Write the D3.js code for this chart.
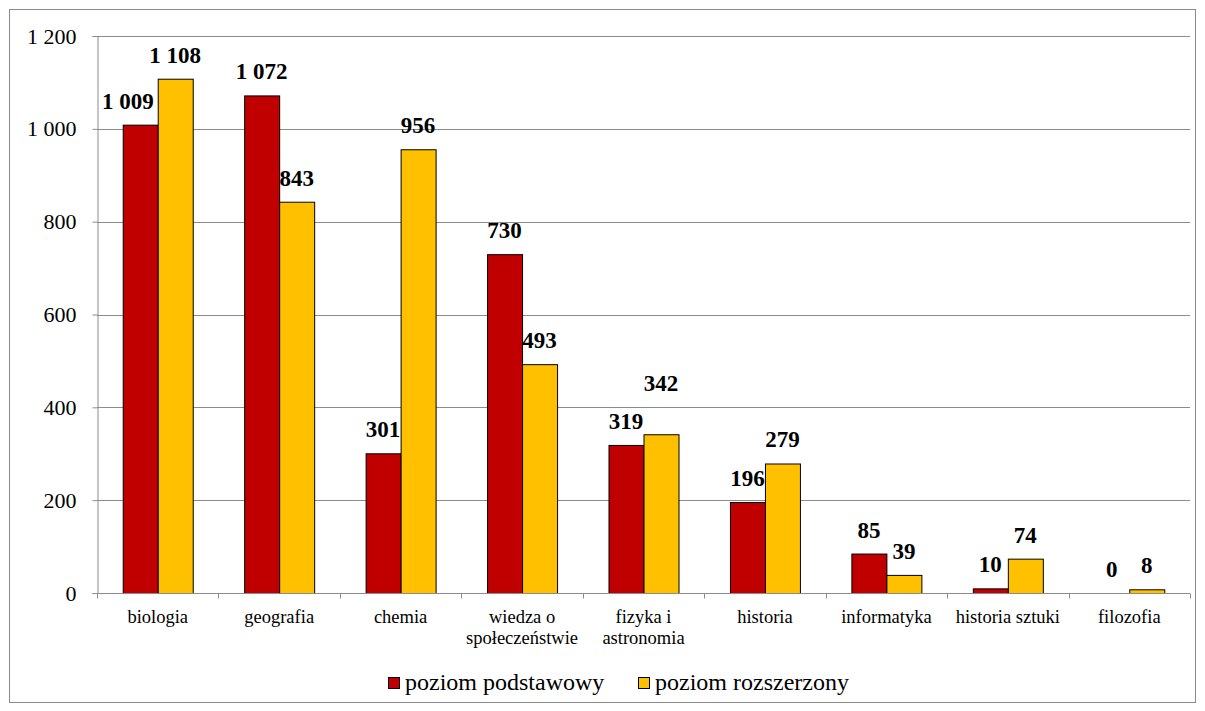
<!DOCTYPE html>
<html>
<head>
<meta charset="utf-8">
<script src="https://cdn.jsdelivr.net/npm/d3@7"></script>
</head>
<body style="margin:0; background:#fff">
<div id="chart-area"></div>
<script>
// data
const categories = ["biologia", "geografia", "chemia", "wiedza o|społeczeństwie", "fizyka i|astronomia",
  "historia", "informatyka", "historia sztuki", "filozofia"]
const podstawowy = [1009, 1072, 301, 730, 319, 196, 85, 10, 0]
const rozszerzony = [1108, 843, 956, 493, 342, 279, 39, 74, 8]
const seriesNames = ["poziom podstawowy", "poziom rozszerzony"]
const seriesColors = ["#C00000", "#FFC000"]
const yTicks = [0, 200, 400, 600, 800, 1000, 1200]

const FONT = "Liberation Serif"
const GRID = "#8c8c8c"
const W = 1205, H = 711
const MARGIN = { LEFT: 97, RIGHT: 15, TOP: 36, BOTTOM: 118 }
const WIDTH = W - MARGIN.LEFT - MARGIN.RIGHT
const HEIGHT = H - MARGIN.TOP - MARGIN.BOTTOM
const PAIR = 70 // width of the two bars in a category
const LABEL_GAP = 16

const locale = d3.formatLocale({ decimal: ",", thousands: " ", grouping: [3], currency: ["", " zł"] })
const fmt = locale.format(",d")

const svg = d3.select("#chart-area").append("svg")
  .attr("width", W)
  .attr("height", H)
  .attr("font-family", FONT)

// outer frame
svg.append("rect")
  .attr("x", 9.5).attr("y", 9.5)
  .attr("width", W - 19).attr("height", H - 18)
  .attr("fill", "#fff")
  .attr("stroke", GRID)

const g = svg.append("g")
  .attr("transform", `translate(${MARGIN.LEFT}, ${MARGIN.TOP})`)

// scales
const x = d3.scaleBand().domain(categories).range([0, WIDTH]).padding(0)
const xInner = d3.scaleBand().domain([0, 1]).range([0, PAIR])
const y = d3.scaleLinear().domain([0, 1200]).range([HEIGHT, 0])

// gridlines
g.selectAll(".grid").data(yTicks.slice(1)).enter().append("line")
  .attr("class", "grid")
  .attr("x1", 0).attr("x2", WIDTH)
  .attr("y1", d => Math.round(y(d)) + 0.5).attr("y2", d => Math.round(y(d)) + 0.5)
  .attr("stroke", GRID)

// y axis
const yAxis = g.append("g").attr("transform", "translate(0.5,0)")
  .call(d3.axisLeft(y).tickValues(yTicks).tickSize(5).tickFormat(fmt))
yAxis.attr("font-family", FONT)
yAxis.select(".domain").attr("stroke", GRID)
yAxis.selectAll(".tick line").attr("stroke", GRID)
yAxis.selectAll(".tick text")
  .attr("x", -21)
  .attr("font-size", "22px")
  .attr("font-family", FONT)
  .attr("fill", "#000")

// bars
const groups = g.selectAll(".cat").data(categories).enter().append("g")
  .attr("class", "cat")
  .attr("transform", d => `translate(${x(d) + (x.bandwidth() - PAIR) / 2}, 0)`)

const series = [podstawowy, rozszerzony]
series.forEach((vals, si) => {
  groups.append("rect")
    .attr("x", xInner(si) + 0.5)
    .attr("y", (d, i) => y(vals[i]) + 0.5)
    .attr("width", xInner.bandwidth())
    .attr("height", (d, i) => Math.max(0, HEIGHT - y(vals[i])))
    .attr("fill", seriesColors[si])
    .attr("stroke", "#000")
    .attr("stroke-width", 1)
    .attr("display", (d, i) => vals[i] === 0 ? "none" : null)
})

// data labels (outside end)
const labels = series.map((vals, si) => groups.append("text")
  .attr("x", xInner(si) + xInner.bandwidth() / 2)
  .attr("y", (d, i) => y(vals[i]) - LABEL_GAP)
  .attr("text-anchor", "middle")
  .attr("font-family", FONT)
  .attr("font-size", "23px")
  .attr("font-weight", "bold")
  .text((d, i) => fmt(vals[i])))

// keep labels clear of each other and of the neighbouring bar
labels[0].each(function (d, i) {
  const w = this.getComputedTextLength()
  const base = y(podstawowy[i]) - LABEL_GAP
  const right = xInner(0) + xInner.bandwidth() / 2 + w / 2
  if (right > xInner(1) && y(rozszerzony[i]) < base) {
    // taller neighbour: slide the label left, off the yellow bar
    d3.select(this).attr("text-anchor", "end").attr("x", xInner(1) - 4)
  }
})
labels[1].each(function (d, i) {
  const own = y(rozszerzony[i]) - LABEL_GAP
  const other = y(podstawowy[i]) - LABEL_GAP
  if (podstawowy[i] > 0 && own < other + 2 && other - own < 24) {
    // labels would touch: lift the second one a line higher
    d3.select(this).attr("y", other - 38)
  }
})

// x axis
const xAxis = g.append("g").attr("transform", `translate(0, ${HEIGHT + 0.5})`)
xAxis.append("line").attr("x1", 0).attr("x2", WIDTH).attr("stroke", GRID)
xAxis.selectAll(".xt").data(d3.range(categories.length + 1)).enter().append("line")
  .attr("x1", i => Math.round(i * x.step()) + 0.5)
  .attr("x2", i => Math.round(i * x.step()) + 0.5)
  .attr("y1", 0).attr("y2", 5)
  .attr("stroke", GRID)
const xl = xAxis.selectAll(".xl").data(categories).enter().append("text")
  .attr("text-anchor", "middle")
  .attr("font-family", FONT)
  .attr("font-size", "18.5px")
  .attr("transform", d => `translate(${x(d) + x.bandwidth() / 2}, 29)`)
xl.each(function (d) {
  d.split("|").forEach((line, k) => {
    d3.select(this).append("tspan").attr("x", 0).attr("y", k * 21).text(line)
  })
})

// legend
const legend = svg.append("g").attr("transform", "translate(388, 677)")
const legendX = [0, 250]
seriesNames.forEach((name, i) => {
  const lg = legend.append("g").attr("transform", `translate(${legendX[i]}, 0)`)
  lg.append("rect").attr("x", 0.5).attr("y", 0.5).attr("width", 11).attr("height", 11)
    .attr("fill", seriesColors[i]).attr("stroke", "#000")
  lg.append("text").attr("x", 17).attr("y", 13)
    .attr("font-family", FONT).attr("font-size", "24px").text(name)
})
</script>
</body>
</html>
